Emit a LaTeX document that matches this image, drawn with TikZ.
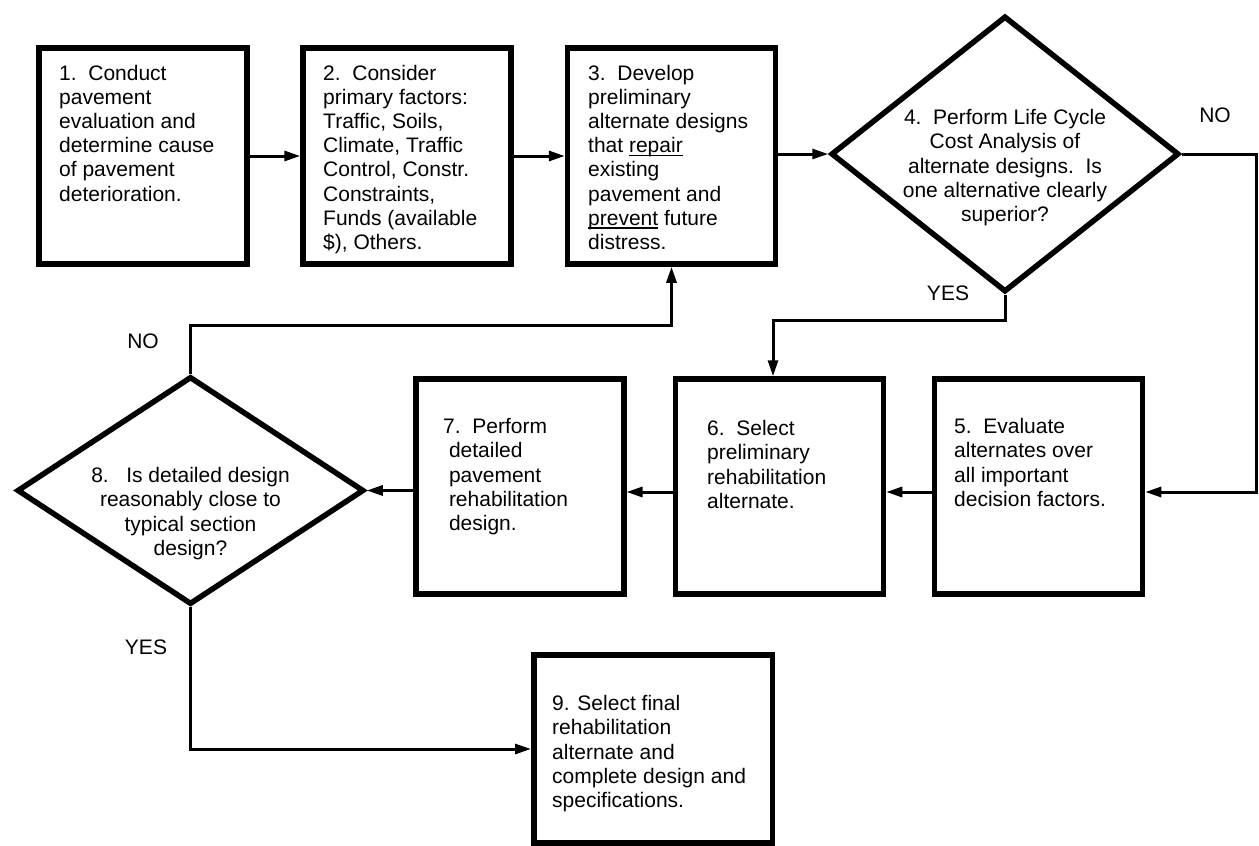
\documentclass[tikz,border=0pt]{standalone}
\usepackage{fontspec}
\setmainfont[Ligatures=NoCommon]{Liberation Sans}
\usetikzlibrary{arrows.meta,shapes.geometric}
\newcommand\myul[1]{\setbox0\hbox{#1}\rlap{\rule[-3.2pt]{\wd0}{1.3pt}}#1}
\begin{document}
\begin{tikzpicture}[x=1pt,y=-1pt,
  box/.style={draw, line width=5.5pt, minimum width=208pt, minimum height=216pt, inner sep=0pt},
  dia/.style={draw, diamond, line width=5.5pt, inner sep=0pt},
  txt/.style={anchor=north west, inner sep=0pt, align=left, font=\fontsize{21}{24.2}\selectfont},
  ctxt/.style={anchor=north, inner sep=0pt, align=center, font=\fontsize{21}{24.2}\selectfont},
  lbl/.style={inner sep=0pt, font=\fontsize{21}{24.2}\selectfont},
  conn/.style={line width=3pt, -{Triangle[length=16pt,width=10pt]}}]
\useasboundingbox (0,0) rectangle (1259,846);

% boxes and decisions
\node[box] (b1) at (143,156) {};
\node[box] (b2) at (407,156) {};
\node[box] (b3) at (671.5,156) {};
\node[dia, minimum width=348pt, minimum height=276pt] (d4) at (1005,154) {};
\node[box, minimum height=215pt] (b5) at (1038.5,486.5) {};
\node[box, minimum height=215pt] (b6) at (779.5,486.5) {};
\node[box, minimum height=215pt] (b7) at (519.75,486.5) {};
\node[dia, minimum width=347pt, minimum height=228pt] (d8) at (190.5,490.5) {};
\node[box, minimum width=238.5pt, minimum height=188pt] (b9) at (653,749) {};

% texts
\node[txt] (t1) at (59,63) {\strut 1.~~Conduct\\pavement\\evaluation and\\determine cause\\of pavement\\deterioration.};
\node[txt] (t2) at (323,63) {\strut 2.~~Consider\\primary factors:\\Traffic, Soils,\\Climate, Traffic\\Control, Constr.\\Constraints,\\Funds (available\\\$), Others.};
\node[txt] (t3) at (588,63) {\strut 3.~~Develop\\preliminary\\alternate designs\\that \myul{repair}\\existing\\pavement and\\\myul{prevent} future\\distress.};
\node[ctxt] (t4) at (1005,107.6) {\strut 4.~~Perform Life Cycle\\Cost Analysis of\\alternate designs.~~Is\\one alternative clearly\\superior?};
\node[txt] (t5) at (954,416.5) {\strut 5.~~Evaluate\\alternates over\\all important\\decision factors.};
\node[txt] (t6) at (707,418.5) {\strut 6.~~Select\\preliminary\\rehabilitation\\alternate.};
\node[txt] (t7) at (443,416.5) {\strut 7.~~Perform\\\hspace*{5.8pt}detailed\\\hspace*{5.8pt}pavement\\\hspace*{5.8pt}rehabilitation\\\hspace*{5.8pt}design.};
\node[ctxt] (t8) at (190.5,465.6) {\strut 8.~~~Is detailed design\\reasonably close to\\typical section\\design?};
\node[txt] (t9) at (552,693.5) {\strut 9. Select final\\rehabilitation\\alternate and\\complete design and\\specifications.};

% labels
\node[lbl] (no4) at (1215,115) {NO};
\node[lbl] (yes4) at (948,293) {YES};
\node[lbl] (no8) at (143,341) {NO};
\node[lbl] (yes8) at (146,647) {YES};

% helper coordinates
\coordinate (ry) at (0,492);
\coordinate (rr) at (1256,492);
\coordinate (k1) at (773,320);
\coordinate (k2) at (671.5,325);

% connectors
\draw[conn] (b1.east) -- (b2.west);
\draw[conn] (b2.east) -- (b3.west);
\draw[conn] (b3.east |- d4.west) -- (d4.west);
\draw[conn] (d4.east) -| (rr) -- (b5.east |- rr);
\draw[conn] (b5.west |- ry) -- (b6.east |- ry);
\draw[conn] (b6.west |- ry) -- (b7.east |- ry);
\draw[conn] (b7.west |- d8.east) -- (d8.east);
\draw[conn] (d4.south) |- (k1) -- (k1 |- b6.north);
\draw[conn] (d8.north) |- (k2) -- (b3.south);
\draw[conn] (d8.south) |- (b9.west);
\end{tikzpicture}
\end{document}
